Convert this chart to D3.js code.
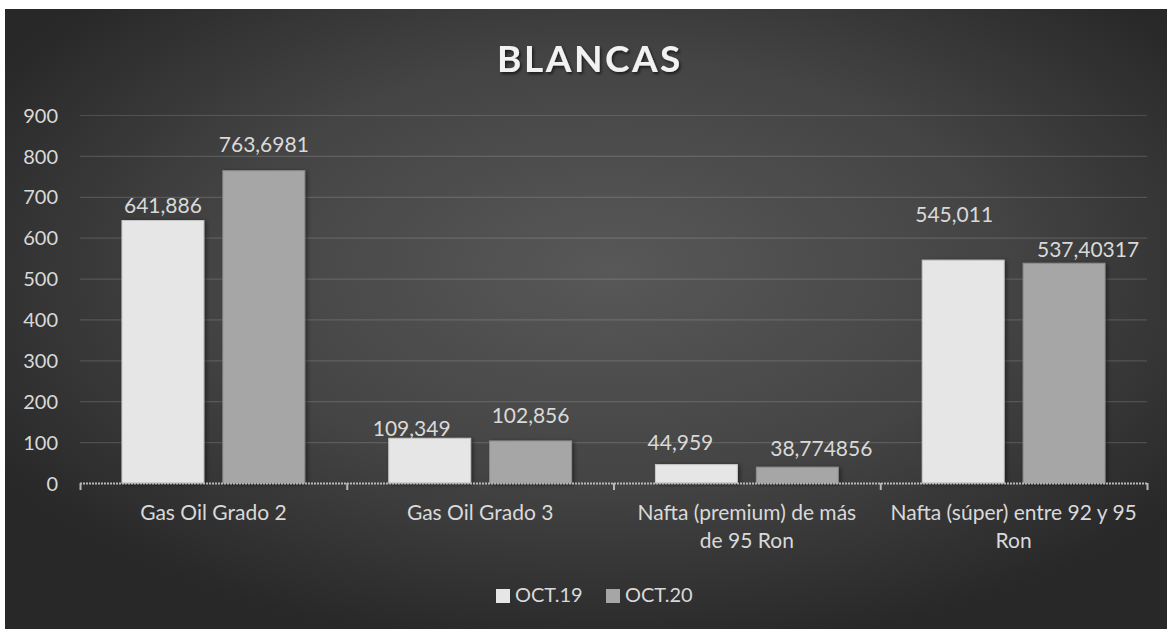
<!DOCTYPE html>
<html>
<head>
<meta charset="utf-8">
<script src="https://cdn.jsdelivr.net/npm/d3@7"></script>
<style>
  html, body { margin: 0; padding: 0; background: #ffffff; }
  svg { display: block; }
</style>
</head>
<body>
<svg id="chart" width="1167" height="629"></svg>
<script>
// ---- data ----
const title = "BLANCAS";
const categories = [
  "Gas Oil Grado 2",
  "Gas Oil Grado 3",
  "Nafta (premium) de más de 95 Ron",
  "Nafta (súper) entre 92 y 95 Ron"
];
// how each category label wraps in the original
const categoryLines = [
  ["Gas Oil Grado 2"],
  ["Gas Oil Grado 3"],
  ["Nafta (premium) de más", "de 95 Ron"],
  ["Nafta (súper) entre 92 y 95", "Ron"]
];
const seriesNames = ["OCT.19", "OCT.20"];
const oct19 = [641.886, 109.349, 44.959, 545.011];
const oct20 = [763.6981, 102.856, 38.774856, 537.40317];
const valueLabels19 = ["641,886", "109,349", "44,959", "545,011"];
const valueLabels20 = ["763,6981", "102,856", "38,774856", "537,40317"];
const yTicks = [0, 100, 200, 300, 400, 500, 600, 700, 800, 900];

// ---- layout (label nudges as placed in the original) ----
const labelNudge = {
  "OCT.19": [[0, 8], [-18, 2], [-16, 15], [-9, 38]],
  "OCT.20": [[0, 19], [0, 18], [24, 11], [24, 6]]
};
const colors = { "OCT.19": "#e6e6e6", "OCT.20": "#a6a6a6" };
const strokes = { "OCT.19": "#c8c8c8", "OCT.20": "#8e8e8e" };
const font = "Lato, 'Open Sans', sans-serif";

const W = 1167, H = 629;
const plot = { left: 80, right: 1147, top: 115, bottom: 483 };

const svg = d3.select("#chart");
const defs = svg.append("defs");

const grad = defs.append("radialGradient")
  .attr("id", "bg").attr("cx", "0.52").attr("cy", "0.42").attr("r", "0.62")
  .attr("fx", "0.52").attr("fy", "0.42");
grad.append("stop").attr("offset", "0").attr("stop-color", "#585858");
grad.append("stop").attr("offset", "0.55").attr("stop-color", "#444444");
grad.append("stop").attr("offset", "1").attr("stop-color", "#282828");

const shadow = defs.append("filter").attr("id", "shadow")
  .attr("x", "-20%").attr("y", "-20%").attr("width", "140%").attr("height", "140%");
shadow.append("feDropShadow").attr("dx", 2).attr("dy", 1).attr("stdDeviation", 2)
  .attr("flood-color", "#000").attr("flood-opacity", 0.45);

const tshadow = defs.append("filter").attr("id", "tshadow")
  .attr("x", "-10%").attr("y", "-30%").attr("width", "120%").attr("height", "160%");
tshadow.append("feDropShadow").attr("dx", 1.5).attr("dy", 2).attr("stdDeviation", 1.5)
  .attr("flood-color", "#000").attr("flood-opacity", 0.6);

// background
svg.append("rect").attr("x", 5).attr("y", 9).attr("width", W - 5).attr("height", H - 9)
  .attr("fill", "url(#bg)");

// scales
const x0 = d3.scaleBand().domain(categories).range([plot.left, plot.right])
  .paddingInner(0).paddingOuter(0);
const x1 = d3.scaleBand().domain(seriesNames).range([0, x0.bandwidth()])
  .paddingInner(0.188).paddingOuter(0.416);
const y = d3.scaleLinear().domain([0, 900]).range([plot.bottom, plot.top]);

// gridlines
svg.append("g").selectAll("line").data(yTicks.filter(d => d > 0)).join("line")
  .attr("x1", plot.left).attr("x2", plot.right)
  .attr("y1", d => y(d) + 0.5).attr("y2", d => y(d) + 0.5)
  .attr("stroke", "rgba(255,255,255,0.14)").attr("stroke-width", 1.2);

// y tick labels
const yAxis = d3.axisLeft(y).tickValues(yTicks).tickSize(0).tickPadding(0);
const gy = svg.append("g").attr("transform", `translate(58,0)`).call(yAxis);
gy.select(".domain").remove();
gy.selectAll("text").attr("font-family", font).attr("font-size", 20)
  .attr("fill", "#d9d9d9").attr("dy", "0.36em");

// bars
const series = [
  { name: "OCT.19", values: oct19, labels: valueLabels19 },
  { name: "OCT.20", values: oct20, labels: valueLabels20 }
];
const barG = svg.append("g");
series.forEach(s => {
  barG.append("g").selectAll("rect").data(categories).join("rect")
    .attr("x", c => x0(c) + x1(s.name))
    .attr("y", (c, i) => y(s.values[i]))
    .attr("width", x1.bandwidth())
    .attr("height", (c, i) => y(0) - y(s.values[i]))
    .attr("fill", colors[s.name])
    .attr("stroke", strokes[s.name]).attr("stroke-width", 1)
    .attr("filter", "url(#shadow)");
});

// x axis
const xAxis = d3.axisBottom(x0).tickSize(0).tickFormat("");
const gx = svg.append("g").attr("transform", `translate(0,${plot.bottom})`).call(xAxis);
gx.select(".domain").remove();
svg.append("line").attr("x1", plot.left).attr("x2", plot.right)
  .attr("y1", plot.bottom + 0.5).attr("y2", plot.bottom + 0.5)
  .attr("stroke", "#b8b8b8").attr("stroke-width", 2).attr("stroke-dasharray", "2,1");
const boundaries = categories.map(c => x0(c)).concat([x0(categories[categories.length - 1]) + x0.bandwidth()]);
svg.append("g").selectAll("line").data(boundaries).join("line")
  .attr("x1", d => d + 0.5).attr("x2", d => d + 0.5)
  .attr("y1", plot.bottom).attr("y2", plot.bottom + 7)
  .attr("stroke", "#b8b8b8").attr("stroke-width", 2);

// category labels
const catG = svg.append("g");
categories.forEach((c, i) => {
  const cx = x0(c) + x0.bandwidth() / 2;
  const t = catG.append("text")
    .attr("x", cx).attr("y", 520)
    .attr("text-anchor", "middle").attr("font-family", font).attr("font-size", 21)
    .attr("fill", "#d9d9d9");
  categoryLines[i].forEach((ln, j) => {
    t.append("tspan").attr("x", cx).attr("dy", j === 0 ? 0 : 28).text(ln);
  });
});

// value labels
series.forEach(s => {
  svg.append("g").selectAll("text").data(categories).join("text")
    .attr("x", (c, i) => x0(c) + x1(s.name) + x1.bandwidth() / 2 + labelNudge[s.name][i][0])
    .attr("y", (c, i) => y(s.values[i]) - labelNudge[s.name][i][1])
    .attr("text-anchor", "middle").attr("font-family", font).attr("font-size", 21)
    .attr("fill", "#d9d9d9")
    .text((c, i) => s.labels[i]);
});

// title
svg.append("text").attr("x", 590).attr("y", 72).attr("text-anchor", "middle")
  .attr("font-family", font).attr("font-weight", 700).attr("font-size", 37)
  .attr("letter-spacing", 2.5).attr("fill", "#f2f2f2").attr("filter", "url(#tshadow)")
  .text(title);

// legend
const legend = svg.append("g");
const legendX = [496, 606];
seriesNames.forEach((n, i) => {
  legend.append("rect").attr("x", legendX[i]).attr("y", 589).attr("width", 14).attr("height", 14)
    .attr("fill", colors[n]);
  legend.append("text").attr("x", legendX[i] + 19).attr("y", 602)
    .attr("font-family", font).attr("font-size", 20).attr("fill", "#d9d9d9").text(n);
});
</script>
</body>
</html>
